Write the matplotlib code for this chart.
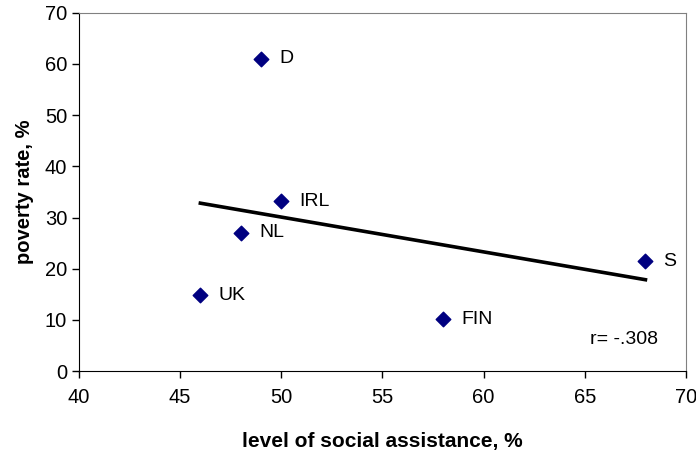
import numpy as np
import matplotlib.pyplot as plt

plt.rcParams['font.family'] = ['Liberation Sans', 'DejaVu Sans']

# data
countries = ['D', 'IRL', 'NL', 'UK', 'FIN', 'S']
assistance = [49, 50, 48, 46, 58, 68]
poverty = [61, 33.2, 27, 14.8, 10.1, 21.5]
r_text = 'r= -.308'

fig = plt.figure(figsize=(6.96, 4.57), dpi=100)
ax = fig.add_axes([0.1135, 0.188, 0.872, 0.784])

# least squares trend line over the range of the data
slope, icept = np.polyfit(assistance, poverty, 1)
xs = np.array([min(assistance), max(assistance)])
ax.plot(xs, slope * xs + icept, color='black', lw=2.6, zorder=2)

ax.scatter(assistance, poverty, marker='D', s=55, color='#000080', zorder=3)
for name, x, y in zip(countries, assistance, poverty):
    ax.annotate(name, (x, y), xytext=(13, 0), textcoords='offset points',
                va='center', ha='left', fontsize=14)

ax.text(0.954, 0.087, r_text, transform=ax.transAxes, ha='right', va='center', fontsize=14)

ax.set_xlim(40, 70)
ax.set_ylim(0, 70)
ax.set_xticks(range(40, 71, 5))
ax.set_yticks(range(0, 71, 10))
ax.tick_params(labelsize=14.5, length=5, width=1, direction='out')
ax.tick_params(axis='x', pad=7)
ax.spines['top'].set_color('#808080')
ax.spines['right'].set_color('#808080')

ax.set_xlabel('level of social assistance, %', fontsize=15, fontweight='bold', labelpad=18)
ax.set_ylabel('poverty rate, %', fontsize=14.5, fontweight='bold', labelpad=8)

fig.savefig('out.png', dpi=100)
